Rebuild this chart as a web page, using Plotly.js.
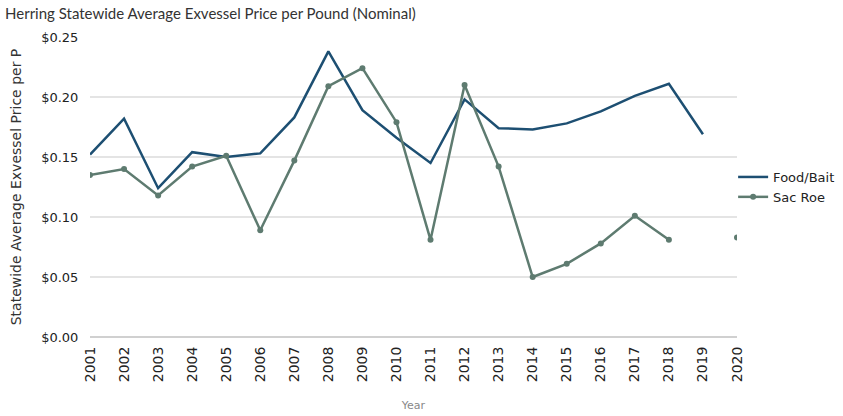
<!DOCTYPE html>
<html>
<head>
<meta charset="utf-8">
<script src="https://cdn.plot.ly/plotly-3.0.1.min.js"></script>
<style>html,body{margin:0;padding:0;background:#fff;}#chart{width:843px;height:416px;}</style>
</head>
<body>
<div id="chart"></div>
<script>
var years = ["2001","2002","2003","2004","2005","2006","2007","2008","2009","2010","2011","2012","2013","2014","2015","2016","2017","2018","2019","2020"];
var foodBait = [0.152,0.182,0.124,0.154,0.150,0.153,0.183,0.238,0.189,0.166,0.145,0.198,0.174,0.173,0.178,0.188,0.201,0.211,0.169,null];
var sacRoe = [0.135,0.140,0.118,0.142,0.151,0.089,0.147,0.209,0.224,0.179,0.081,0.210,0.142,0.050,0.061,0.078,0.101,0.081,null,0.083];
var yTicks = [0,0.05,0.10,0.15,0.20,0.25];
var yTickText = ["$0.00","$0.05","$0.10","$0.15","$0.20","$0.25"];

var traces = [
  {x: years, y: foodBait, name: "Food/Bait", type: "scatter", mode: "lines",
   line: {color: "#1d4f72", width: 2.5}},
  {x: years, y: sacRoe, name: "Sac Roe", type: "scatter", mode: "lines+markers",
   line: {color: "#5e7b70", width: 2.5}, marker: {color: "#5e7b70", size: 6}}
];
var layout = {
  width: 843, height: 416,
  margin: {l: 90, r: 106, t: 37, b: 79, autoexpand: false},
  paper_bgcolor: "#fff", plot_bgcolor: "#fff",
  font: {family: "Lato, DejaVu Sans, sans-serif", color: "#333", size: 11},
  title: {text: "Herring Statewide Average Exvessel Price per Pound (Nominal)", x: 0.006, xanchor: "left", y: 0.98, yanchor: "top",
          font: {size: 15, color: "#333", family: "Lato, DejaVu Sans, sans-serif"}},
  xaxis: {type: "category", tickangle: -90, showgrid: false, zeroline: false, showline: false,
          tickfont: {size: 14, color: "#222", family: "DejaVu Sans, sans-serif"}, ticks: "outside", ticklen: 3, tickcolor: "rgba(0,0,0,0)",
          range: [0, 19], automargin: false,
          title: {text: "Year", font: {size: 11, color: "#888", family: "DejaVu Sans, sans-serif"}, standoff: 20}},
  yaxis: {range: [0, 0.25], tickvals: yTicks, ticktext: yTickText, showgrid: true, gridcolor: "#e4e4e4", gridwidth: 1.5,
          zeroline: true, zerolinecolor: "#d0d0d0", zerolinewidth: 1.5, automargin: true,
          tickfont: {size: 13, color: "#222", family: "DejaVu Sans, sans-serif"}, ticks: "outside", ticklen: 8, tickcolor: "rgba(0,0,0,0)",
          title: {text: "Statewide Average Exvessel Price per P", font: {size: 14, color: "#333", family: "DejaVu Sans, sans-serif"}, standoff: 16}},
  legend: {x: 0.994, y: 0.5, xanchor: "left", yanchor: "middle", font: {size: 13, color: "#222", family: "DejaVu Sans, sans-serif"},
           tracegroupgap: 0, itemwidth: 30, bgcolor: "rgba(0,0,0,0)"},
  showlegend: true
};
Plotly.newPlot("chart", traces, layout, {displayModeBar: false, staticPlot: true});
</script>
</body>
</html>
